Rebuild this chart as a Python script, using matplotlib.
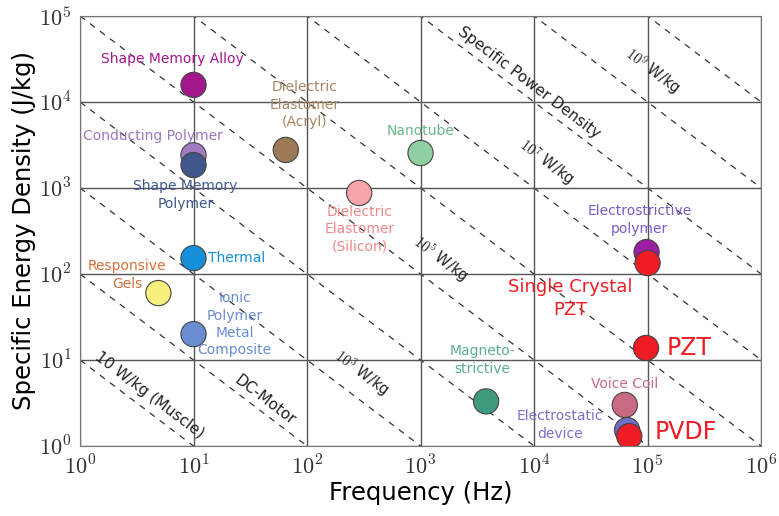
import numpy as np
import matplotlib.pyplot as plt

plt.rcParams['mathtext.fontset'] = 'cm'

# actuator technologies: frequency (Hz), specific energy density (J/kg)
names = ['Shape Memory Alloy', 'Conducting Polymer', 'Shape Memory Polymer',
         'Dielectric Elastomer (Acryl)', 'Nanotube', 'Dielectric Elastomer (Silicon)',
         'Thermal', 'Responsive Gels', 'Ionic Polymer Metal Composite',
         'Magnetostrictive', 'Voice Coil', 'Electrostatic device', 'PVDF',
         'PZT', 'Electrostrictive polymer', 'Single Crystal PZT']
freq = [10, 10, 10, 65, 1000, 288, 10, 4.9, 10, 3780, 63000, 66000, 69000,
        97000, 98000, 100000]
energy = [15800, 2400, 1850, 2770, 2550, 875, 153, 60, 20, 3.3, 3.0, 1.53, 1.3,
          13.8, 180, 134]
fill = ['#a3168c', '#a07cc2', '#41578c', '#9c7a55', '#90cfa0', '#f6a6aa',
        '#158fd9', '#f8ef7c', '#6a8cd0', '#3f9a80', '#c86b82', '#6e6ec8',
        '#ee1c24', '#ee1c24', '#9b1ea3', '#ee1c24']

# text beside each point: (label, x, y, colour, size)
labels = [
    ('Shape Memory Alloy', 6.5, 3.2e4, '#a3168c', 10),
    ('Conducting Polymer', 4.4, 4.0e3, '#9a78c0', 10),
    ('Shape Memory\nPolymer', 8.5, 8.3e2, '#41578c', 10),
    ('Dielectric\nElastomer\n(Acryl)', 95, 9.3e3, '#a78763', 10),
    ('Nanotube', 1000, 4.6e3, '#6cb58a', 10),
    ('Dielectric\nElastomer\n(Silicon)', 293, 3.3e2, '#f08888', 10),
    ('Thermal', 24, 1.53e2, '#158fd9', 10),
    ('Responsive\nGels', 2.6, 97, '#d4703a', 10),
    ('Ionic\nPolymer\nMetal\nComposite', 23, 2.6e1, '#6a8cd0', 10),
    ('Magneto-\nstrictive', 3500, 1.0e1, '#5bb08a', 10),
    ('Voice Coil', 63000, 5.3, '#c86b82', 10),
    ('Electrostatic\ndevice', 17000, 1.75, '#7a70c8', 10),
    ('PVDF', 2.15e5, 1.46, '#ee1c24', 17),
    ('PZT', 2.3e5, 13.8, '#ee1c24', 17),
    ('Electrostrictive\npolymer', 85000, 4.25e2, '#7a5cc8', 10),
    ('Single Crystal\nPZT', 21000, 52, '#ee1c24', 13),
]

# constant specific power lines (W/kg), E * f = P
power = [1e1, 1e2, 1e3, 1e4, 1e5, 1e6, 1e7, 1e8, 1e9, 1e10]
power_labels = [
    ('10 W/kg (Muscle)', 4.1, 3.9),
    ('DC-Motor', 43, 3.4),
    (r'$10^3$ W/kg', 300, 7.0),
    (r'$10^5$ W/kg', 1500, 1.5e2),
    (r'$10^7$ W/kg', 13000, 2.0e3),
    (r'$10^9$ W/kg', 1.1e5, 2.3e4),
    ('Specific Power Density', 9000, 1.7e4),
]
xticks = [10.0 ** k for k in range(7)]
yticks = [10.0 ** k for k in range(6)]

fig = plt.figure(figsize=(7.79, 5.16), dpi=100)
ax = fig.add_axes([0.1027, 0.1357, 0.8743, 0.8333])
ax.set_xscale('log')
ax.set_yscale('log')
ax.set_xlim(1, 1e6)
ax.set_ylim(1, 1e5)

f = np.logspace(0, 6, 200)
for p in power:
    ax.plot(f, p / f, ls=(0, (5, 5)), color='#333333', lw=0.9, zorder=1)

ax.grid(True, which='major', color='#555555', lw=1.0, zorder=0)
ax.minorticks_off()
for s in ax.spines.values():
    s.set_color('#777777')
ax.tick_params(length=0, labelsize=16, pad=6, labelcolor='#333333')
ax.set_xticks(xticks)
ax.set_xticklabels([r'$10^{%d}$' % round(np.log10(t)) for t in xticks])
ax.set_yticks(yticks)
ax.set_yticklabels([r'$10^{%d}$' % round(np.log10(t)) for t in yticks])

ax.scatter(freq, energy, s=330, c=fill, edgecolors='#444444', linewidths=0.8,
           zorder=3)

for txt, x, y, col, size in labels:
    ax.text(x, y, txt, color=col, fontsize=size, ha='center', va='center',
            linespacing=1.3, zorder=4)

# rotate power labels along the dashed lines
p0 = ax.transData.transform((1, 1))
p1 = ax.transData.transform((10, 0.1))
ang = np.degrees(np.arctan2(p1[1] - p0[1], p1[0] - p0[0]))
for txt, x, y in power_labels:
    ax.text(x, y, txt, rotation=ang, rotation_mode='anchor', ha='center',
            va='center', fontsize=11 if txt[0] != '$' else 10.5,
            color='#222222', zorder=4)

ax.set_xlabel('Frequency (Hz)', fontsize=17.5, labelpad=2)
ax.set_ylabel('Specific Energy Density (J/kg)', fontsize=17.5, labelpad=2)

fig.savefig('out.png', dpi=100)
